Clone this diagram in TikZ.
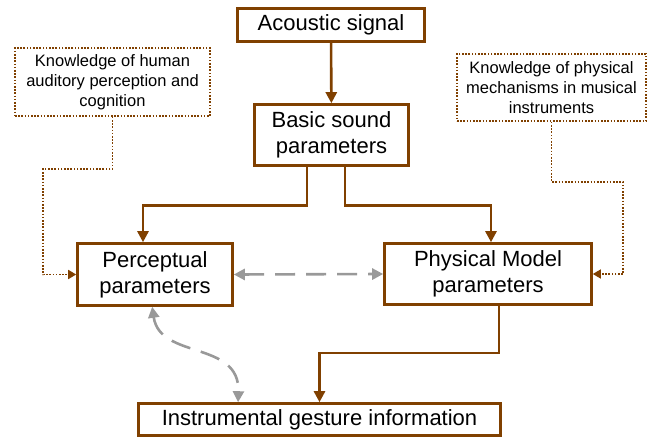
\documentclass[tikz,border=0pt]{standalone}
\usepackage{fontspec}
\setmainfont{Liberation Sans}
\usetikzlibrary{arrows.meta, positioning}
\definecolor{brownline}{RGB}{128,64,0}
\definecolor{greyline}{RGB}{153,153,153}

\begin{document}
\begin{tikzpicture}[x=1pt, y=-1pt,
    block/.style={rectangle, draw=brownline, line width=2.6pt, fill=white, align=center, inner sep=0pt, font=\fontsize{22}{26}\selectfont},
    knowbox/.style={rectangle, draw=brownline, line width=1.6pt, dash pattern=on 1.6pt off 1.6pt, align=center, inner sep=0pt, font=\fontsize{16.5}{20}\selectfont},
    flow/.style={draw=brownline, line width=2.6pt, -{Triangle[width=11pt,length=11pt]}},
    hint/.style={draw=brownline, line width=1.6pt, dash pattern=on 1.6pt off 1.6pt, -{Triangle[width=9pt,length=8pt]}},
    link/.style={draw=greyline, line width=2.6pt, dash pattern=on 20pt off 11pt, {Triangle[width=11pt,length=11pt]}-{Triangle[width=11pt,length=11pt]}}]

    \useasboundingbox (0,0) rectangle (652,438);

    \node[block, minimum width=187pt, minimum height=33pt] (signal) at (331,25) {Acoustic signal};
    \node[block, minimum width=154pt, minimum height=61pt] (basic) at (331.5,135) {Basic sound\\parameters};
    \node[block, minimum width=155pt, minimum height=62pt] (percept) at (155,274.5) {Perceptual\\parameters};
    \node[block, minimum width=207pt, minimum height=61pt] (physical) at (488,274) {Physical Model\\parameters};
    \node[block, minimum width=362pt, minimum height=32pt] (gesture) at (319.5,419.5) {Instrumental gesture information};

    \node[knowbox, minimum width=195pt, minimum height=68pt] (knowhuman) at (112.5,82) {Knowledge of human\\auditory perception and\\cognition};
    \node[knowbox, minimum width=189pt, minimum height=67pt] (knowphys) at (551.5,87.5) {Knowledge of physical\\mechanisms in musical\\instruments};

    \draw[flow] (signal) -- (basic);
    \draw[flow] ([xshift=-24.5pt]basic.south) -- ++(0,39) -| ([xshift=-12pt]percept.north);
    \draw[flow] ([xshift=13.5pt]basic.south) -- ++(0,39) -| ([xshift=3pt]physical.north);
    \draw[flow] ([xshift=11pt]physical.south) -- ++(0,47) -| (gesture.north);

    \draw[hint] (knowhuman.south) |- (43,169) |- (percept.west);
    \draw[hint] (knowphys.south) |- (623,182) |- (physical.east);

    \draw[link] (percept.east) -- (physical.west);
    \draw[link] (percept.-95) .. controls (160,360) and (240,340) .. (gesture.168);
\end{tikzpicture}
\end{document}
